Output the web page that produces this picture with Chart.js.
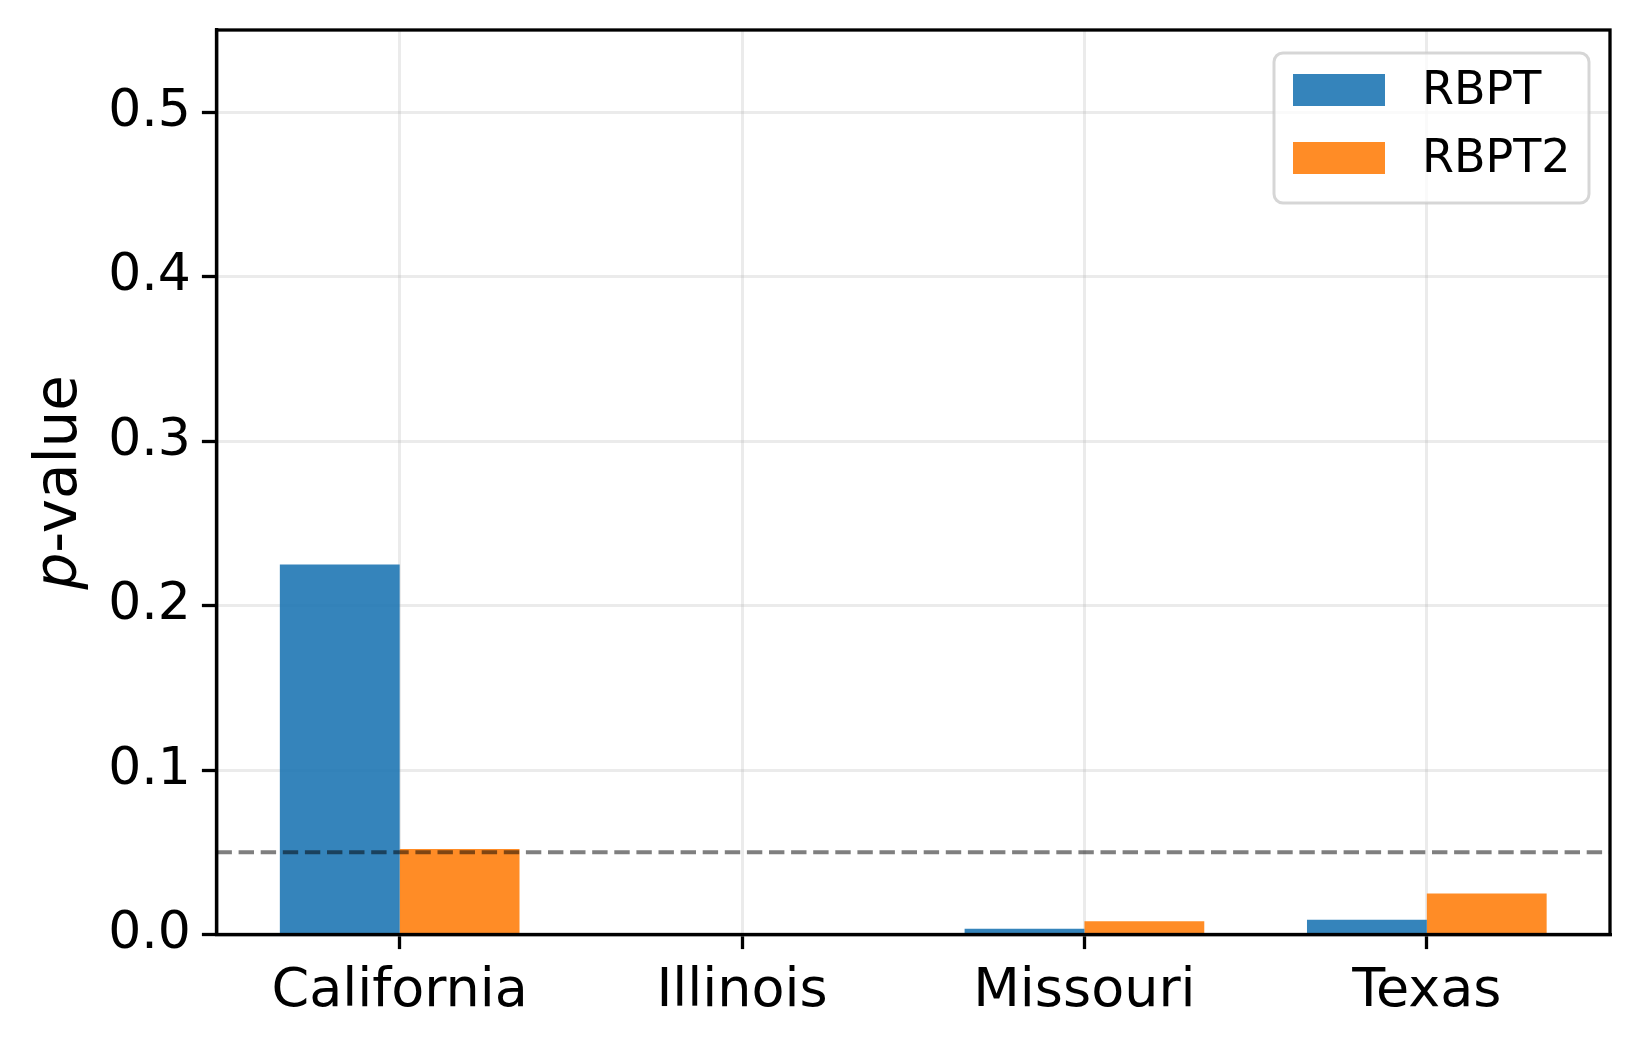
<!DOCTYPE html>
<html>
<head>
<meta charset="utf-8">
<script src="https://cdn.jsdelivr.net/npm/chart.js@4.4.1/dist/chart.umd.min.js"></script>
<style>
  html, body { margin: 0; padding: 0; background: #fff; }
  #wrap { width: 1641px; height: 1047px; }
</style>
</head>
<body>
<div id="wrap"><canvas id="graph" width="1641" height="1047"></canvas></div>
<script>
// values
const states = ["California", "Illinois", "Missouri", "Texas"];
const rbpt = [0.225, 0, 0.0035, 0.009];
const rbpt2 = [0.052, 0, 0.008, 0.025];
const yTicks = [0, 0.1, 0.2, 0.3, 0.4, 0.5];
const threshold = 0.05;

const FONT = "'DejaVu Sans', 'Liberation Sans', sans-serif";

function points(vals){
  var out = [];
  for(let i = 0; i < vals.length; i++){
    out.push({x: i, y: vals[i]});
  }
  return out;
}

// frame, dashed 0.05 line, legend box and y title
const extras = {
  id: 'extras',
  afterDatasetsDraw(chart){
    const ctx = chart.ctx;
    const a = chart.chartArea;
    const y = chart.scales.y.getPixelForValue(threshold);
    ctx.save();
    ctx.strokeStyle = 'rgba(0,0,0,0.5)';
    ctx.lineWidth = 4.2;
    ctx.setLineDash([15.4, 6.7]);
    ctx.beginPath();
    ctx.moveTo(a.left, y);
    ctx.lineTo(a.right, y);
    ctx.stroke();
    ctx.restore();
  },
  afterDraw(chart){
    const ctx = chart.ctx;
    const a = chart.chartArea;
    ctx.save();
    ctx.strokeStyle = '#000';
    ctx.lineWidth = 3.3;
    ctx.strokeRect(a.left, a.top, a.right - a.left, a.bottom - a.top);

    // legend
    var bx = 1274, by = 53, bw = 315, bh = 150;
    ctx.beginPath();
    ctx.roundRect(bx, by, bw, bh, 9);
    ctx.fillStyle = 'rgba(255,255,255,0.8)';
    ctx.fill();
    ctx.strokeStyle = 'rgba(204,204,204,0.8)';
    ctx.lineWidth = 3;
    ctx.stroke();
    ctx.font = '46px ' + FONT;
    ctx.textBaseline = 'middle';
    ctx.textAlign = 'left';
    chart.data.datasets.forEach(function(ds, i){
      var cy = 90 + i * 68;
      ctx.fillStyle = ds.backgroundColor;
      ctx.fillRect(1293, cy - 16, 92, 32);
      ctx.fillStyle = '#000';
      ctx.fillText(ds.label, 1422, cy + 2);
    });

    // y axis title, italic p
    ctx.translate(76, (a.top + a.bottom) / 2);
    ctx.rotate(-Math.PI / 2);
    ctx.textBaseline = 'alphabetic';
    var fp = 'italic 58px ' + FONT, fr = '58px ' + FONT;
    ctx.font = fp;
    var wp = ctx.measureText('p').width;
    ctx.font = fr;
    var wr = ctx.measureText('-value').width;
    var x0 = -(wp + wr) / 2;
    ctx.fillStyle = '#000';
    ctx.font = fp;
    ctx.fillText('p', x0, 0);
    ctx.font = fr;
    ctx.fillText('-value', x0 + wp, 0);
    ctx.restore();
  }
};

const data = {
  datasets: [{
    label: 'RBPT',
    data: points(rbpt),
    backgroundColor: 'rgba(31,119,180,0.9)',
    borderWidth: 0
  }, {
    label: 'RBPT2',
    data: points(rbpt2),
    backgroundColor: 'rgba(255,127,14,0.9)',
    borderWidth: 0
  }]
};

const gridOpts = {
  color: 'rgba(176,176,176,0.25)',
  lineWidth: 3,
  tickColor: '#000',
  tickLength: 14.6,
  tickWidth: 3.3,
  offset: false
};

const bar = {
  type: 'bar',
  data: data,
  options: {
    responsive: false,
    animation: false,
    devicePixelRatio: 1,
    categoryPercentage: 0.7,
    barPercentage: 1.0,
    layout: { padding: { top: 30, right: 31, left: 0, bottom: 0 } },
    plugins: {
      legend: { display: false },
      tooltip: { enabled: false }
    },
    scales: {
      x: {
        type: 'linear',
        offset: false,
        min: -0.535,
        max: 3.535,
        afterBuildTicks: function(axis){
          axis.ticks = states.map(function(s, i){ return {value: i}; });
        },
        afterFit: function(axis){
          axis.height = 112.5;
          axis.paddingLeft = 0;
          axis.paddingRight = 0;
        },
        ticks: {
          autoSkip: false,
          maxRotation: 0,
          padding: 10,
          color: '#000',
          font: { family: FONT, size: 54 },
          callback: function(v){ return states[v]; }
        },
        grid: gridOpts,
        border: { display: true, color: '#000', width: 3.3 }
      },
      y: {
        min: 0,
        max: 0.55,
        afterBuildTicks: function(axis){
          axis.ticks = yTicks.map(function(v){ return {value: v}; });
        },
        afterFit: function(axis){
          axis.width = 216.5;
          axis.paddingTop = 0;
          axis.paddingBottom = 0;
        },
        ticks: {
          padding: 11,
          color: '#000',
          font: { family: FONT, size: 52 },
          callback: function(v){ return v.toFixed(1); }
        },
        grid: gridOpts,
        border: { display: true, color: '#000', width: 3.3 }
      }
    }
  },
  plugins: [extras]
};

var ctx = document.getElementById('graph');
var chart = new Chart(ctx, bar);
</script>
</body>
</html>
